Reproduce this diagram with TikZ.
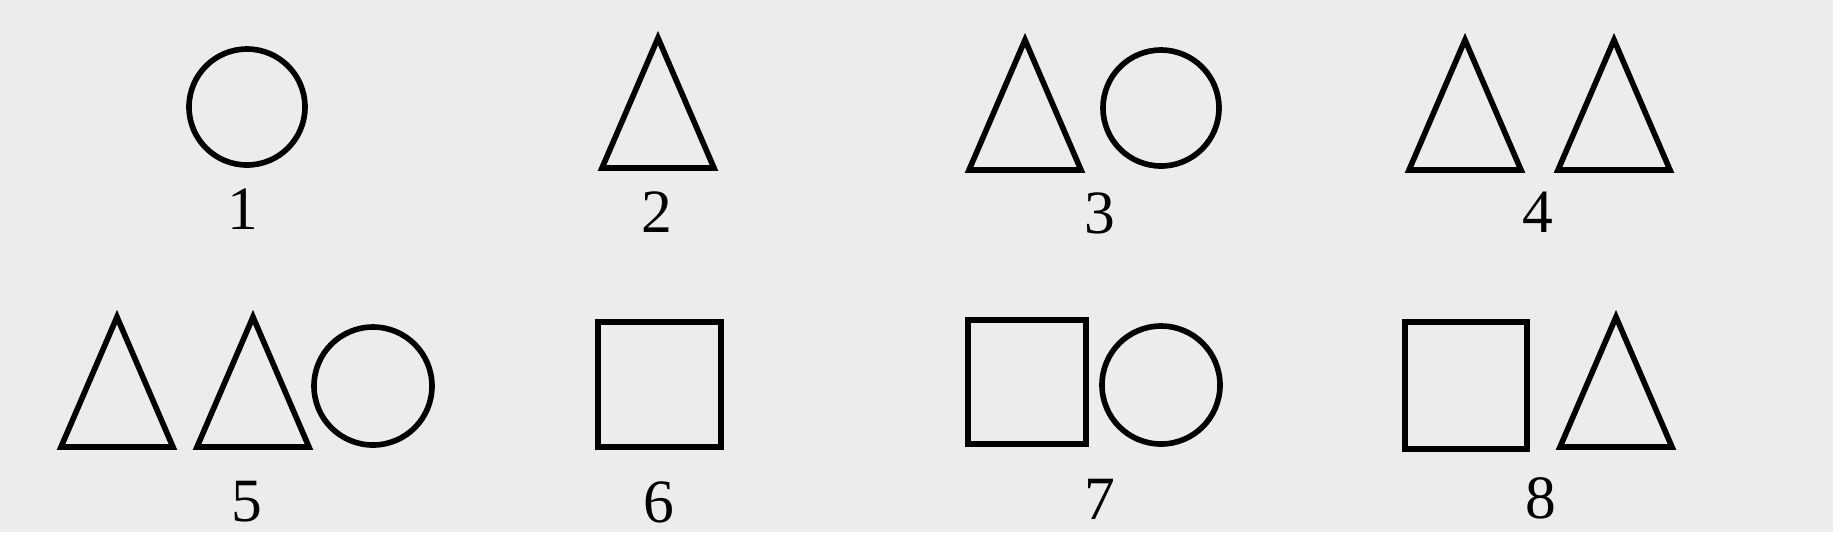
\documentclass[tikz,border=0pt]{standalone}
\usepackage{fontspec}
\setmainfont{Liberation Serif}
\definecolor{paper}{RGB}{236,237,234}
\tikzset{
  figline/.style={line width=1.6pt},
  num/.style={inner sep=0pt,font=\fontsize{17.5}{20}\selectfont},
  tri/.pic={\draw[figline] (-56,0) -- (56,0) -- (0,-130) -- cycle;}
}

\begin{document}
\begin{tikzpicture}[x=0.01cm,y=-0.01cm]
  \fill[paper] (0,0) rectangle (1833,532);
  \useasboundingbox (0,0) rectangle (1833,532);
  % top row
  \draw[figline] (247,107) circle (58);
  \pic at (658,168) {tri};
  \pic at (1025,170) {tri};
  \draw[figline] (1161,108) circle (58);
  \pic at (1465,170) {tri};
  \pic at (1614,170) {tri};
  \node[num] (n1) at (243,209) {1};
  \node[num] (n2) at (657,212) {2};
  \node[num] (n3) at (1100,213) {3};
  \node[num] (n4) at (1538,212) {4};
  % bottom row
  \pic at (117,447) {tri};
  \pic at (253,447) {tri};
  \draw[figline] (373,386) circle (59);
  \draw[figline] (598,322) rectangle (721,447);
  \draw[figline] (968,320) rectangle (1086,444);
  \draw[figline] (1161,385) circle (59);
  \draw[figline] (1405,322) rectangle (1527,449);
  \pic at (1616,447) {tri};
  \node[num] (n5) at (247,502) {5};
  \node[num] (n6) at (659,502) {6};
  \node[num] (n7) at (1100,499) {7};
  \node[num] (n8) at (1541,498) {8};
\end{tikzpicture}
\end{document}
